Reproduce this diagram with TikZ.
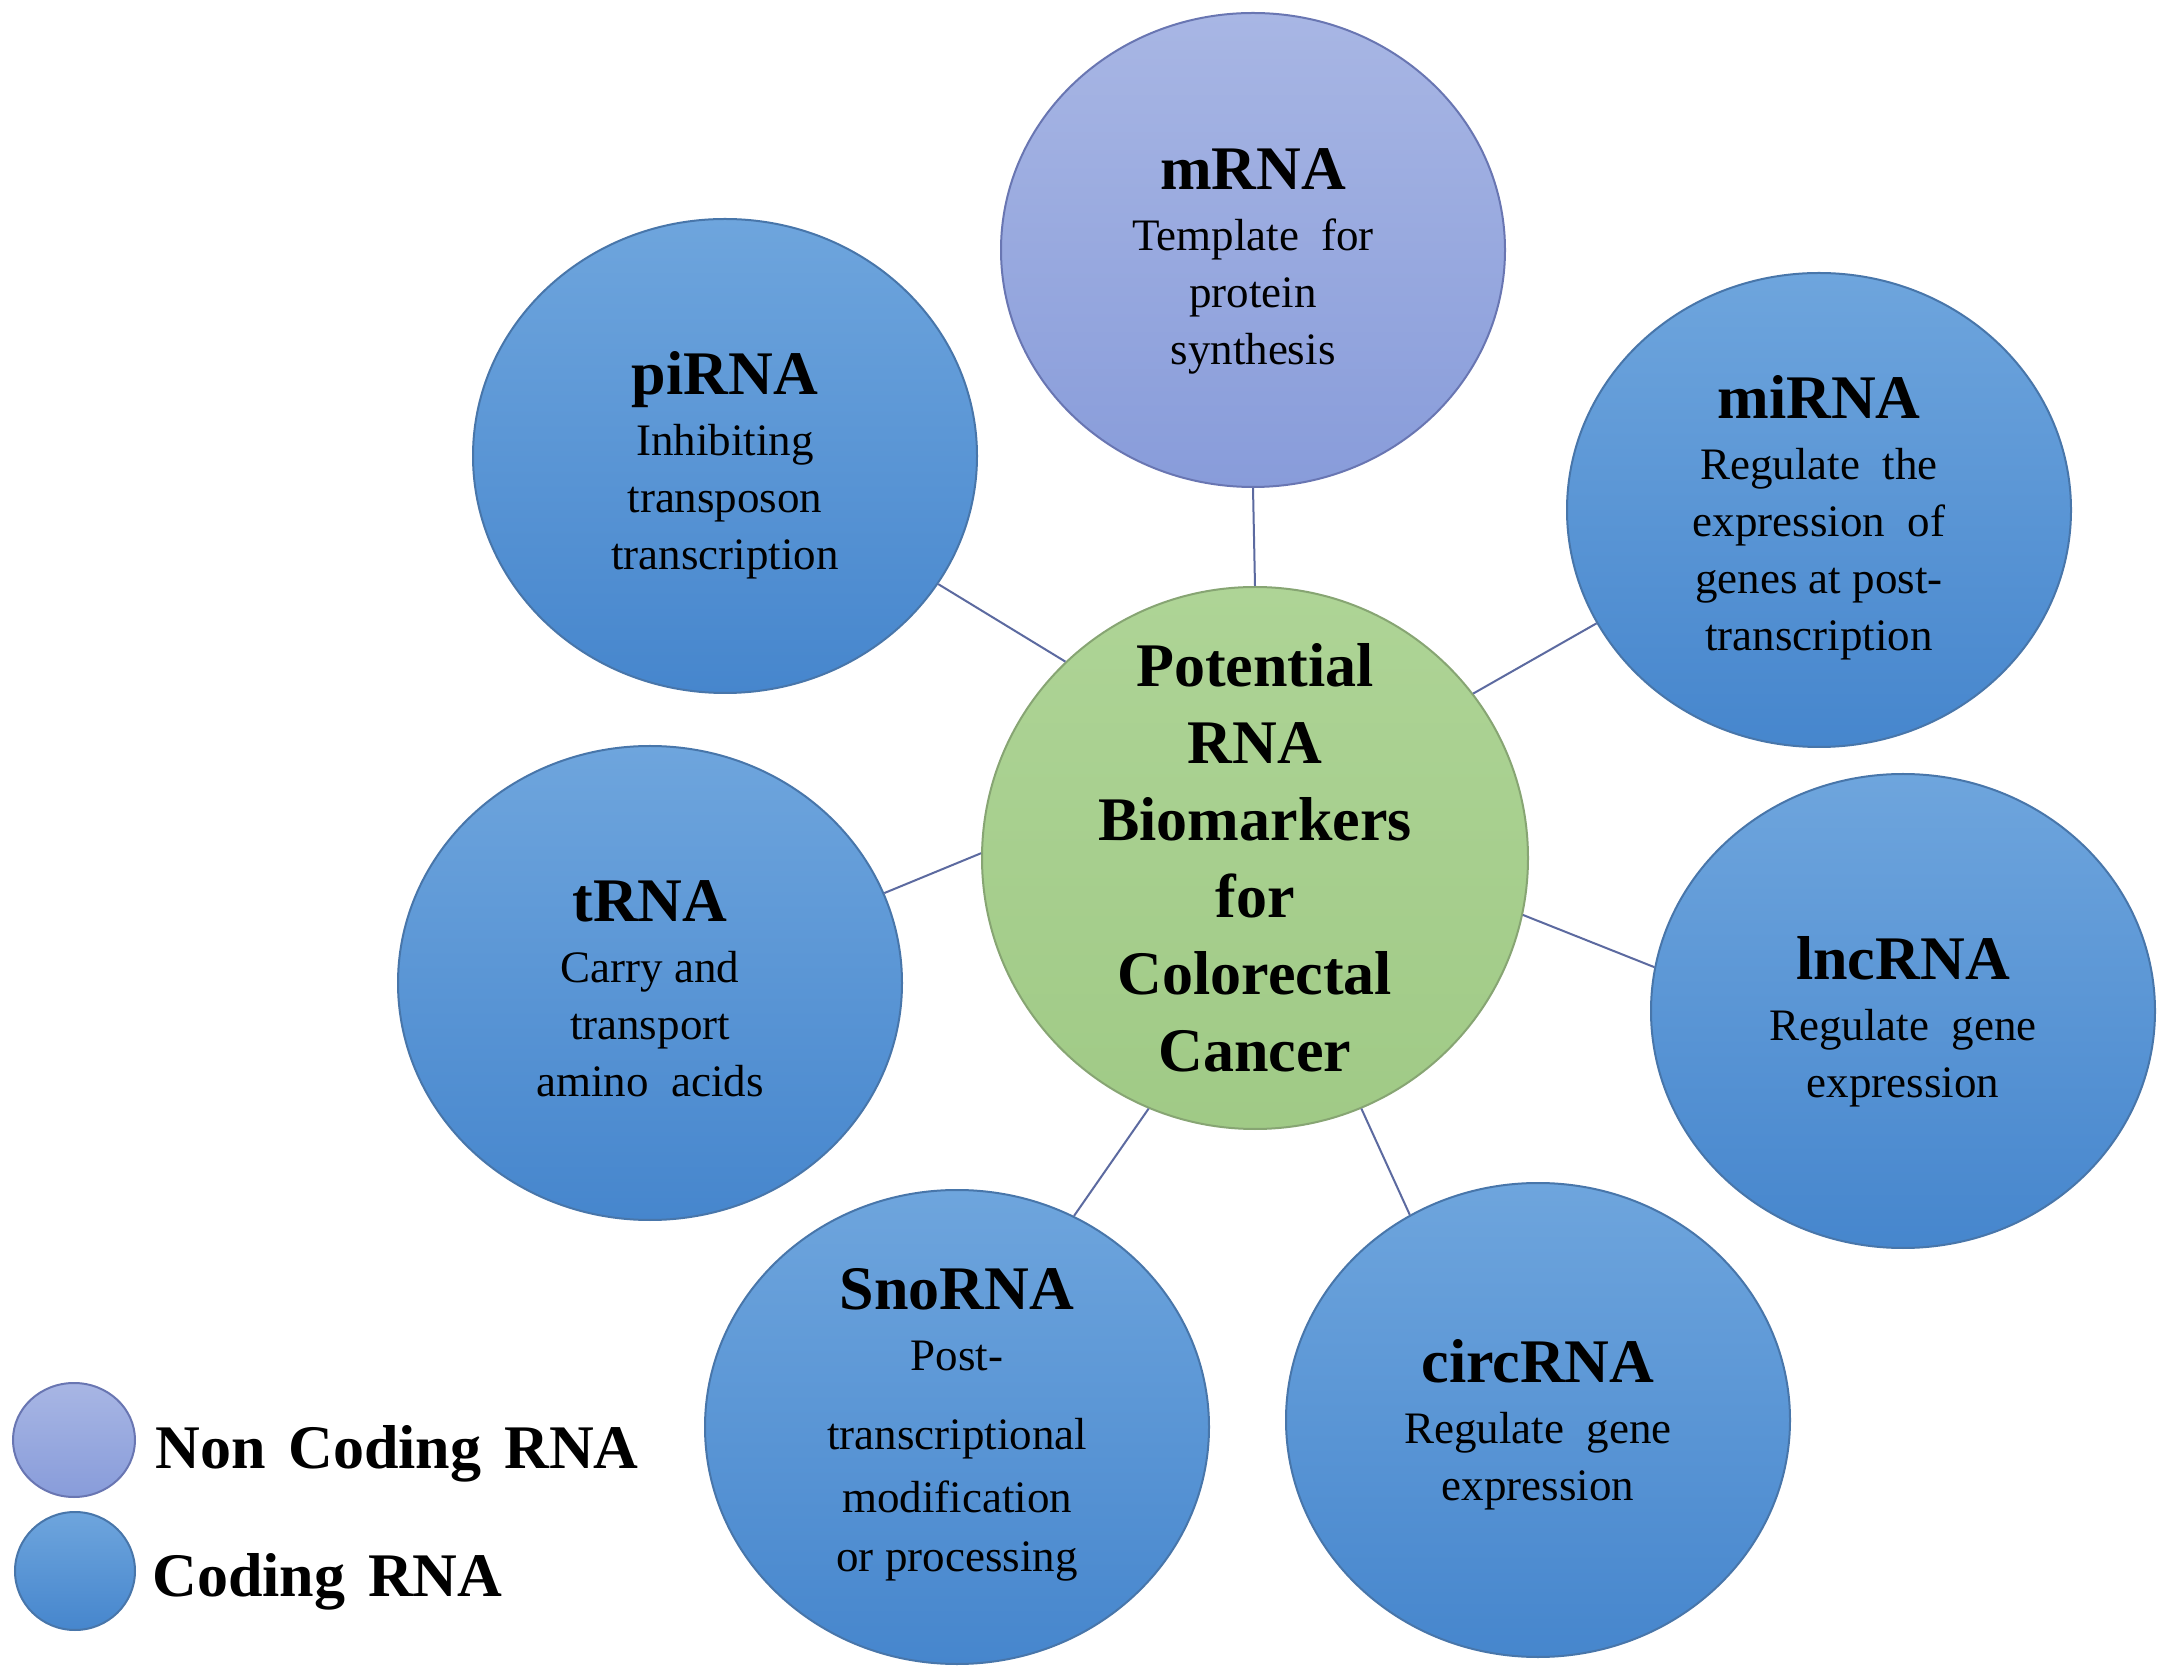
\documentclass[tikz,border=0pt]{standalone}
\usepackage{fontspec}
\setmainfont{Liberation Serif}
\usetikzlibrary{shapes.geometric}
\definecolor{codetop}{RGB}{110,165,221}
\definecolor{codebot}{RGB}{70,134,205}
\definecolor{codeline}{RGB}{72,118,170}
\definecolor{nctop}{RGB}{168,182,228}
\definecolor{ncbot}{RGB}{136,156,218}
\definecolor{ncline}{RGB}{105,118,178}
\definecolor{hubtop}{RGB}{174,212,150}
\definecolor{hubbot}{RGB}{160,202,134}
\definecolor{hubline}{RGB}{135,165,115}
\definecolor{linkc}{RGB}{92,106,160}
\newcommand\bodyf{\fontsize{22.5}{28.5}\selectfont}
\newcommand\titlef{\fontsize{31}{33}\selectfont\bfseries}
\newcommand\hubf{\fontsize{31}{38.5}\selectfont\bfseries}
\newcommand\wsp{\hspace{0.25em}}
\tikzset{
  blob/.style={ellipse, line width=1pt, inner sep=0pt},
  outer/.style={blob, minimum width=252pt, minimum height=237pt},
  coding/.style={outer, draw=codeline, top color=codetop, bottom color=codebot},
  noncoding/.style={outer, draw=ncline, top color=nctop, bottom color=ncbot},
  hub/.style={blob, draw=hubline, top color=hubtop, bottom color=hubbot},
  blobtext/.style={inner sep=0pt, align=center, font=\bodyf},
  hubtext/.style={inner sep=0pt, align=center, font=\hubf},
  link/.style={draw=linkc, line width=1pt},
  legtext/.style={inner sep=0pt, font=\titlef}
}
\begin{document}
\begin{tikzpicture}[x=0.5pt,y=-0.5pt]
\useasboundingbox[fill=white] (0,0) rectangle (2165,1673);
% hub
\node[hub, minimum width=273pt, minimum height=271pt] (hub) at (1255,858) {};
\node[hubtext] (hubt) at (hub.center)
  {Potential\\RNA\\Biomarkers\\for\\Colorectal\\Cancer};
% outer nodes
\node[noncoding] (mRNA) at (1253,250) {};
\node[blobtext] (mRNAt) at ([yshift=-5.5pt]mRNA.center)
  {{\titlef mRNA}\\[2pt]Template\wsp{} for\\protein\\synthesis};
\node[coding] (piRNA) at (725,456) {};
\node[blobtext] (piRNAt) at ([yshift=-4.5pt]piRNA.center)
  {{\titlef piRNA}\\[2pt]Inhibiting\\transposon\\transcription};
\node[coding] (miRNA) at (1819,510) {};
\node[blobtext] (miRNAt) at ([yshift=-4pt]miRNA.center)
  {{\titlef miRNA}\\[2pt]Regulate\wsp{} the\\expression\wsp{} of\\genes at post-\\transcription};
\node[coding] (tRNA) at (650,983) {};
\node[blobtext] (tRNAt) at ([yshift=-2.75pt]tRNA.center)
  {{\titlef tRNA}\\[2pt]Carry and\\transport\\amino\wsp{} acids};
\node[coding] (lncRNA) at (1903,1011) {};
\node[blobtext] (lncRNAt) at ([yshift=-5.5pt]lncRNA.center)
  {{\titlef lncRNA}\\[2pt]Regulate\wsp{} gene\\expression};
\node[coding] (SnoRNA) at (957,1427) {};
\node[blobtext] (SnoRNAt) at ([yshift=1pt]SnoRNA.center)
  {{\titlef SnoRNA}\\[2pt]Post-\\[11pt]transcriptional\\[3pt]modification\\[1pt]or processing};
\node[coding] (circRNA) at (1538,1420) {};
\node[blobtext] (circRNAt) at ([yshift=-2.25pt]circRNA.center)
  {{\titlef circRNA}\\[2pt]Regulate\wsp{} gene\\expression};
% connectors
\draw[link] (mRNA.south) -- (hub.north);
\draw[link] (piRNA.-31) -- (hub.134);
\draw[link] (miRNA.207.7) -- (hub.37);
\draw[link] (tRNA.21.5) -- (hub.179);
\draw[link] (lncRNA.170) -- (hub.-12.7);
\draw[link] (SnoRNA.61) -- (hub.-113.4);
\draw[link] (circRNA.122.3) -- (hub.-67.5);
% legend
\node[blob, draw=ncline, top color=nctop, bottom color=ncbot, minimum width=61pt, minimum height=57pt] (legNC) at (74,1440) {};
\node[blob, draw=codeline, top color=codetop, bottom color=codebot, minimum width=60pt, minimum height=59pt] (legC) at (75,1571) {};
\node[legtext, anchor=base west] (legNCt) at (155,1468) {Non\hspace{0.12em} Coding\hspace{0.12em} RNA};
\node[legtext, anchor=base west] (legCt) at (152,1596) {Coding\hspace{0.12em} RNA};
\end{tikzpicture}
\end{document}
